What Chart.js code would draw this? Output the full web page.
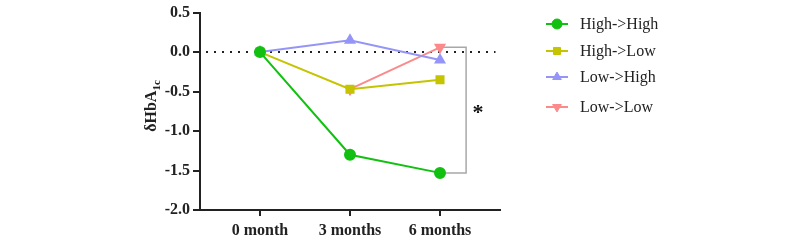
<!DOCTYPE html>
<html>
<head>
<meta charset="utf-8">
<script src="https://cdn.jsdelivr.net/npm/chart.js@4/dist/chart.umd.min.js"></script>
<style>
  html, body { margin: 0; padding: 0; background: #fff; }
  #wrap { width: 800px; height: 240px; }
</style>
</head>
<body>
<div id="wrap"><canvas id="c" width="800" height="240"></canvas></div>
<script>
// data
var months = [0, 3, 6];
var monthLabels = ["0 month", "3 months", "6 months"];
var highHigh = [0, -1.30, -1.53];
var highLow = [0, -0.47, -0.35];
var lowHigh = [0, 0.15, -0.10];
var lowLowMonths = [3, 6];
var lowLow = [-0.47, 0.06];
var yTicks = [0.5, 0.0, -0.5, -1.0, -1.5, -2.0];

var SERIF = "'Liberation Serif', 'Times New Roman', serif";

function pts(xs, ys) {
  return xs.map((x, i) => ({ x: x, y: ys[i] }));
}

var series = [
  { label: "High->High", data: pts(months, highHigh), color: "#11c011", style: "circle", rot: 0 },
  { label: "High->Low", data: pts(months, highLow), color: "#c4c400", style: "rect", rot: 0 },
  { label: "Low->High", data: pts(months, lowHigh), color: "#9595f8", style: "triangle", rot: 0 },
  { label: "Low->Low", data: pts(lowLowMonths, lowLow), color: "#fc8a8a", style: "triangle", rot: 180 }
];

var datasets = series.map(s => ({
  label: s.label,
  data: s.data,
  borderColor: s.color,
  backgroundColor: s.color,
  pointStyle: s.style,
  pointRotation: s.rot,
  pointRadius: 5,
  borderWidth: 2,
  fill: false
}));

// significance bracket between the 6 month points
var last = highHigh.length - 1;
datasets.push({
  label: "_bracket",
  data: [{ x: 6, y: lowLow[1] }, { x: 6.87, y: lowLow[1] }, { x: 6.87, y: highHigh[last] }, { x: 6, y: highHigh[last] }],
  borderColor: "#a8a8a8",
  borderWidth: 1.5,
  pointRadius: 0,
  fill: false
});
// dotted zero line
datasets.push({
  label: "_zero",
  data: [{ x: -1.8, y: 0 }, { x: 7.85, y: 0 }],
  borderColor: "#222",
  borderWidth: 2,
  borderDash: [2, 6],
  pointRadius: 0,
  fill: false
});

var extras = {
  id: "extras",
  afterDraw(chart) {
    var ctx = chart.ctx, xs = chart.scales.x, ys = chart.scales.y;
    ctx.save();
    // y axis title with subscript
    ctx.translate(150, 106);
    ctx.rotate(-Math.PI / 2);
    ctx.fillStyle = "#222";
    ctx.textBaseline = "alphabetic";
    var main = "δHbA";
    ctx.font = "bold 16px " + SERIF;
    var w1 = ctx.measureText(main).width;
    ctx.font = "bold 11px " + SERIF;
    var w2 = ctx.measureText("1c").width;
    var x0 = -(w1 + w2) / 2;
    ctx.font = "bold 16px " + SERIF;
    ctx.fillText(main, x0, 6);
    ctx.font = "bold 11px " + SERIF;
    ctx.fillText("1c", x0 + w1, 10);
    ctx.restore();

    // asterisk
    ctx.save();
    ctx.fillStyle = "#111";
    ctx.font = "bold 22px " + SERIF;
    ctx.textAlign = "center";
    ctx.textBaseline = "middle";
    ctx.fillText("*", xs.getPixelForValue(7.27), ys.getPixelForValue(-0.78));
    ctx.restore();

    // legend
    ctx.save();
    var rowsY = [24, 51, 77, 107];
    series.forEach((s, i) => {
      var y = rowsY[i];
      ctx.strokeStyle = s.color;
      ctx.lineWidth = 2;
      ctx.beginPath();
      ctx.moveTo(546, y);
      ctx.lineTo(568, y);
      ctx.stroke();
      ctx.fillStyle = s.color;
      ctx.strokeStyle = s.color;
      ctx.lineWidth = 1;
      Chart.helpers.drawPoint(ctx, { pointStyle: s.style, rotation: s.rot, radius: 5, borderWidth: 1 }, 557, y);
      ctx.fillStyle = "#222";
      ctx.font = "16px " + SERIF;
      ctx.textBaseline = "middle";
      ctx.textAlign = "left";
      ctx.fillText(s.label, 580, y + 1);
    });
    ctx.restore();
  }
};

new Chart(document.getElementById("c"), {
  type: "line",
  data: { datasets: datasets },
  options: {
    responsive: false,
    animation: false,
    layout: { padding: { left: 0, right: 300, top: 10, bottom: 0 } },
    plugins: { legend: { display: false }, tooltip: { enabled: false } },
    scales: {
      x: {
        type: "linear",
        min: -2,
        max: 8,
        afterBuildTicks(scale) { scale.ticks = months.map(v => ({ value: v })); },
        afterFit(scale) { scale.height = 30; },
        ticks: {
          color: "#222",
          font: { family: SERIF, size: 16, weight: "bold" },
          padding: 5,
          maxRotation: 0,
          callback: (v) => monthLabels[months.indexOf(v)]
        },
        grid: { drawOnChartArea: false, drawTicks: true, tickLength: 6, color: "#222", lineWidth: 2 },
        border: { display: true, color: "#222", width: 2 }
      },
      y: {
        min: -2,
        max: 0.5,
        afterBuildTicks(scale) { scale.ticks = yTicks.map(v => ({ value: v })); },
        afterFit(scale) { scale.width = 200; },
        ticks: {
          color: "#222",
          font: { family: SERIF, size: 16, weight: "bold" },
          padding: 3,
          callback: (v) => v.toFixed(1)
        },
        grid: { drawOnChartArea: false, drawTicks: true, tickLength: 7, color: "#222", lineWidth: 2 },
        border: { display: true, color: "#222", width: 2 }
      }
    }
  },
  plugins: [extras]
});
</script>
</body>
</html>
